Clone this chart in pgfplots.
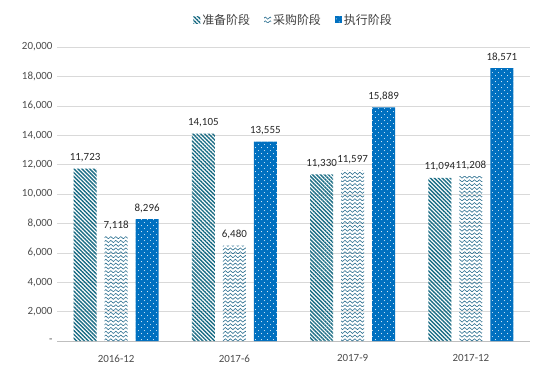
\documentclass[border=0pt]{standalone}
\usepackage{pgfplots}
\pgfplotsset{compat=1.18}
\usepackage{fontspec}
\setmainfont{Carlito}
\newfontfamily\cjk{Noto Sans CJK SC}
\usetikzlibrary{patterns,patterns.meta,calc}
\definecolor{cA}{HTML}{1A6C84}
\definecolor{cB}{HTML}{2B6F90}
\definecolor{cC}{HTML}{0070C0}
\tikzdeclarepattern{
  name=mywave, type=uncolored,
  bottom left={(-0.5pt,-0.5pt)}, top right={(5.5pt,3.5pt)},
  tile size={(5pt,3.8pt)},
  code={\pgfsetlinewidth{0.6pt}
    \pgfpathmoveto{\pgfpoint{0pt}{0.6pt}}
    \pgfpathcurveto{\pgfpoint{0.8pt}{2.1pt}}{\pgfpoint{1.7pt}{2.1pt}}{\pgfpoint{2.5pt}{0.6pt}}
    \pgfpathcurveto{\pgfpoint{3.3pt}{-0.9pt}}{\pgfpoint{4.2pt}{-0.9pt}}{\pgfpoint{5pt}{0.6pt}}
    \pgfusepath{stroke}}
}
\tikzdeclarepattern{
  name=mydots, type=uncolored,
  bottom left={(0pt,0pt)}, top right={(6pt,6pt)},
  tile size={(6pt,6pt)},
  code={
    \pgfpathcircle{\pgfpoint{1.5pt}{1.5pt}}{0.5pt}
    \pgfpathcircle{\pgfpoint{4.5pt}{4.5pt}}{0.5pt}
    \pgfusepath{fill}}
}
\begin{document}
\begin{tikzpicture}
\begin{axis}[
  name=ax,
  scale only axis, width=473bp, height=294bp,
  ymin=0, ymax=20000, xmin=-0.5, xmax=3.5,
  ybar=8bp, bar width=23bp,
  xtick=data, xticklabels={2016-12,2017-6,2017-9,2017-12},
  ytick={0,2000,...,20000}, scaled y ticks=false,
  yticklabels={-,{2,000},{4,000},{6,000},{8,000},{10,000},{12,000},{14,000},{16,000},{18,000},{20,000}},
  ymajorgrids, grid style={draw=black!15, line width=0.6pt},
  axis x line*=bottom, axis y line*=left,
  y axis line style={draw=none},
  x axis line style={draw=black!25, line width=0.6pt},
  tick style={draw=none},
  ticklabel style={font=\fontsize{11}{13}\selectfont, text=black!70},
  xticklabel style={yshift=-6bp},
  yticklabel style={xshift=-1bp},
  nodes near coords,
  nodes near coords style={font=\fontsize{11}{13}\selectfont, text=black!85, yshift=3bp,
     /pgf/number format/1000 sep={,}, /pgf/number format/assume math mode=true},
  legend style={at={(0.5,1.092)}, anchor=center, draw=none, legend columns=-1,
     font=\cjk\fontsize{12}{14}\selectfont, text=black!75,
     /tikz/every even column/.append style={column sep=12bp}},
  legend image code/.code={\draw[#1, draw=none] (0bp,-3.5bp) rectangle (7bp,3.5bp);},
]
\addplot[draw=none, pattern={Lines[angle=-45,distance=2.8pt,line width=1.4pt]}, pattern color=cA]
  coordinates {(0,11723) (1,14105) (2,11330) (3,11094)};
\addplot[draw=none, pattern=mywave, pattern color=cB]
  coordinates {(0,7118) (1,6480) (2,11597) (3,11208)};
\addplot[draw=none, fill=cC, postaction={pattern=mydots, pattern color=white}]
  coordinates {(0,8296) (1,13555) (2,15889) (3,18571)};
\legend{准备阶段,采购阶段,执行阶段}
\end{axis}
\pgfresetboundingbox
\path[use as bounding box] ($(ax.south west)+(-57bp,-26bp)$) rectangle ($(ax.north east)+(6bp,47bp)$);
\end{tikzpicture}
\end{document}
